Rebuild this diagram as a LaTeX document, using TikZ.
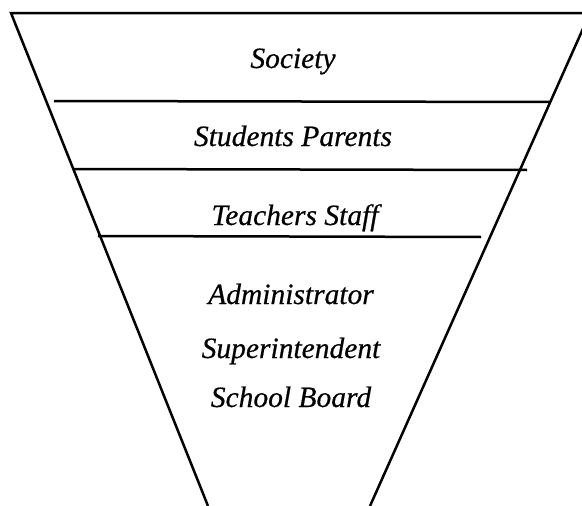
\documentclass[tikz,border=0pt]{standalone}
\usepackage{fontspec}
\setmainfont{Liberation Serif}[ItalicFeatures={FakeBold=0.5}]
\usepackage{tikz}
\usetikzlibrary{positioning}
\tikzset{layer/.style={font=\fontsize{29.5}{34}\selectfont\itshape, inner sep=0pt, anchor=base}}

\begin{document}
\begin{tikzpicture}[x=1pt, y=-1pt, line width=2.5pt, line join=miter]
\useasboundingbox (0,0) rectangle (582,506);
% funnel outline
\coordinate (bl) at (208,506);
\coordinate (tl) at (11,13);
\coordinate (tr) at (590,13);
\coordinate (br) at (370,506);
\draw (bl) -- (tl) -- (tr) -- (br);
% dividers
\coordinate (d1l) at (54,101);  \coordinate (d1r) at (550,102);
\coordinate (d2l) at (74,169);  \coordinate (d2r) at (527,170);
\coordinate (d3l) at (98,236);  \coordinate (d3r) at (481,237);
\draw (d1l) -- (d1r);
\draw (d2l) -- (d2r);
\draw (d3l) -- (d3r);
% layers
\node[layer] (soc) at (293,68) {Society};
\node[layer] (stu) at (293,146) {Students Parents};
\node[layer] (tea) at (295,225) {Teachers Staff};
\node[layer] (adm) at (291,304) {Administrator};
\node[layer, below=54pt of adm.base, anchor=base] (sup) {Superintendent};
\node[layer, below=49pt of sup.base, anchor=base] (brd) {School Board};
\end{tikzpicture}
\end{document}
